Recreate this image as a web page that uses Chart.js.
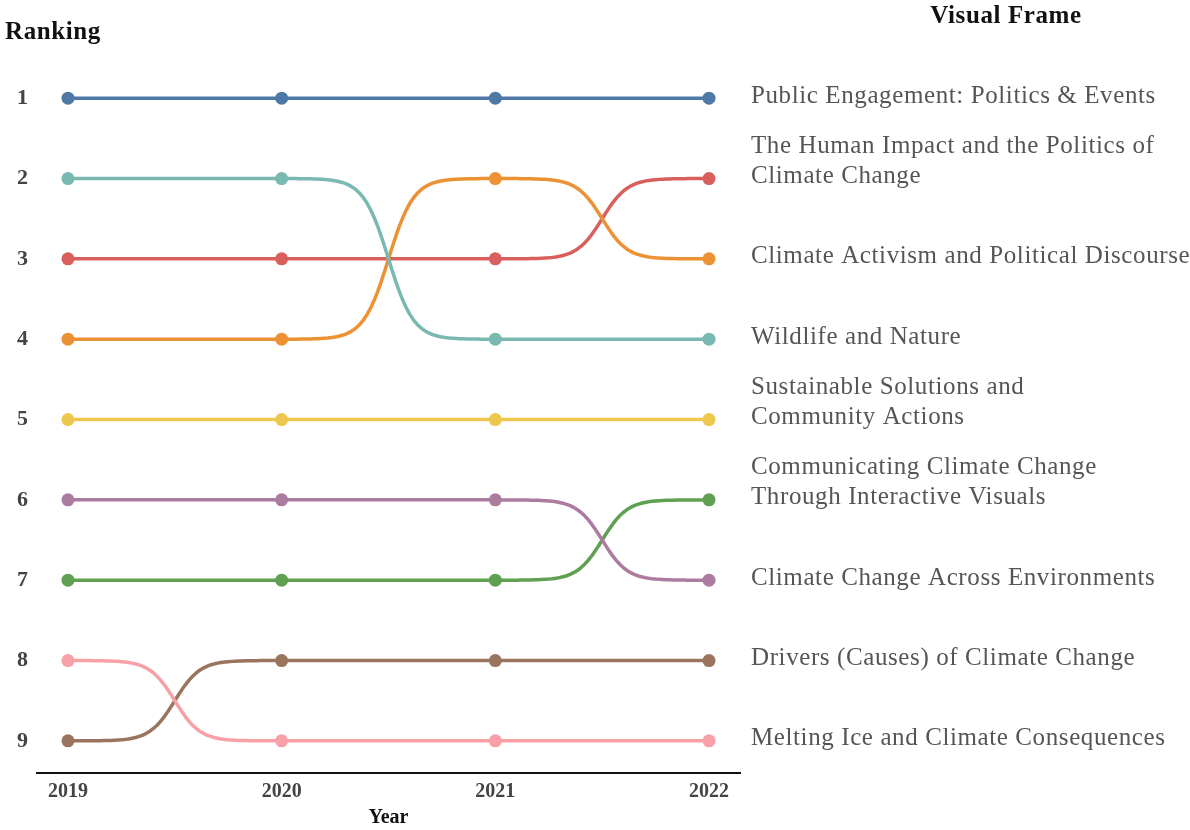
<!DOCTYPE html>
<html>
<head>
<meta charset="utf-8">
<script src="https://cdn.jsdelivr.net/npm/chart.js@4.4.1/dist/chart.umd.min.js"></script>
<style>
  html, body { margin: 0; padding: 0; background: #fff; }
  #wrap { width: 1190px; height: 830px; }
</style>
</head>
<body>
<div id="wrap"><canvas id="chartBump"></canvas></div>
<script>
// datos del ranking por año
const anios = [2019, 2020, 2021, 2022];
const rangos = [1, 2, 3, 4, 5, 6, 7, 8, 9];

const marcos = [
    ['Public Engagement: Politics & Events'],
    ['The Human Impact and the Politics of', 'Climate Change'],
    ['Climate Activism and Political Discourse'],
    ['Wildlife and Nature'],
    ['Sustainable Solutions and', 'Community Actions'],
    ['Communicating Climate Change', 'Through Interactive Visuals'],
    ['Climate Change Across Environments'],
    ['Drivers (Causes) of Climate Change'],
    ['Melting Ice and Climate Consequences']
];

const rankPublic      = [1, 1, 1, 1];
const rankHuman       = [3, 3, 3, 2];
const rankActivism    = [4, 4, 2, 3];
const rankWildlife    = [2, 2, 4, 4];
const rankSustainable = [5, 5, 5, 5];
const rankCommunic    = [7, 7, 7, 6];
const rankAcross      = [6, 6, 6, 7];
const rankDrivers     = [9, 8, 8, 8];
const rankMelting     = [8, 9, 9, 9];

const series = [rankPublic, rankHuman, rankActivism, rankWildlife, rankSustainable,
                rankCommunic, rankAcross, rankDrivers, rankMelting];

const colores = ['#4e79a7', '#d95f5d', '#ec9234', '#7ab8b2', '#ecc94e',
                 '#5fa052', '#ab7ba0', '#9a745e', '#f7a0a8'];

const FUENTE = "'Liberation Serif', 'DejaVu Serif', serif";

// curvas en S entre puntos consecutivos (usa posiciones calculadas por las escalas)
const pluginCurvas = {
    id: 'curvasS',
    beforeDatasetsDraw(chart) {
        const ctx = chart.ctx;
        const k = 17;
        const s0 = 1 / (1 + Math.exp(k / 2));
        const s1 = 1 / (1 + Math.exp(-k / 2));
        chart.data.datasets.forEach((ds, i) => {
            const pts = chart.getDatasetMeta(i).data;
            ctx.save();
            ctx.strokeStyle = ds.borderColor;
            ctx.lineWidth = 3.5;
            ctx.lineCap = 'round';
            ctx.lineJoin = 'round';
            ctx.beginPath();
            ctx.moveTo(pts[0].x, pts[0].y);
            for (let j = 1; j < pts.length; j++) {
                const a = pts[j - 1], b = pts[j];
                if (a.y === b.y) { ctx.lineTo(b.x, b.y); continue; }
                const pasos = 60;
                for (let n = 1; n <= pasos; n++) {
                    const t = n / pasos;
                    const s = (1 / (1 + Math.exp(-k * (t - 0.5))) - s0) / (s1 - s0);
                    ctx.lineTo(a.x + (b.x - a.x) * t, a.y + (b.y - a.y) * s);
                }
            }
            ctx.stroke();
            ctx.restore();
        });
    },
    afterDraw(chart) {
        const ctx = chart.ctx;
        ctx.save();
        // etiquetas a la derecha
        ctx.fillStyle = '#555';
        ctx.font = `25px ${FUENTE}`;
        ctx.letterSpacing = '0.6px';
        ctx.textAlign = 'left';
        ctx.textBaseline = 'middle';
        chart.data.datasets.forEach((ds, i) => {
            const pts = chart.getDatasetMeta(i).data;
            const ultimo = pts[pts.length - 1];
            const rango = ds.data[ds.data.length - 1].y;
            const lineas = marcos[rango - 1];
            lineas.forEach((txt, l) => {
                const y = ultimo.y - (lineas.length - 1 - l) * 30 - 2;
                ctx.fillText(txt, chart.chartArea.right + 11, y);
            });
        });
        // títulos
        ctx.fillStyle = '#111';
        ctx.font = `bold 25px ${FUENTE}`;
        ctx.letterSpacing = '0.6px';
        ctx.textAlign = 'left';
        ctx.fillText('Ranking', 5, 33);
        ctx.textAlign = 'center';
        ctx.fillText('Visual Frame', 1006, 17);
        ctx.restore();
    }
};

const datasets = series.map((serie, i) => ({
    label: marcos[i].join(' '),
    data: serie.map((r, j) => ({ x: anios[j], y: r })),
    borderColor: colores[i],
    backgroundColor: colores[i],
    showLine: false,
    pointRadius: 6.5,
    pointHoverRadius: 6.5,
    pointBorderWidth: 0
}));

new Chart(document.getElementById('chartBump'), {
    type: 'line',
    data: { datasets },
    options: {
        responsive: true,
        maintainAspectRatio: false,
        animation: false,
        layout: { padding: { top: 50, right: 450, left: 0, bottom: 0 } },
        plugins: { legend: { display: false }, tooltip: { enabled: false } },
        scales: {
            x: {
                type: 'linear',
                min: 2018.855,
                max: 2022.145,
                afterBuildTicks: s => { s.ticks = anios.map(v => ({ value: v })); },
                afterFit: s => { s.height = 57; },
                grid: { display: false, drawTicks: false },
                border: { display: true, color: '#111', width: 2 },
                ticks: {
                    color: '#444',
                    padding: 7,
                    font: { family: FUENTE, size: 20, weight: 'bold' },
                    callback: v => String(v)
                },
                title: {
                    display: true,
                    text: 'Year',
                    color: '#111',
                    padding: { top: 0, bottom: 0 },
                    font: { family: FUENTE, size: 20, weight: 'bold' }
                }
            },
            y: {
                type: 'linear',
                reverse: true,
                min: 0.4,
                max: 9.4,
                afterBuildTicks: s => { s.ticks = rangos.map(v => ({ value: v })); },
                afterFit: s => { s.width = 37; },
                grid: { display: false, drawTicks: false },
                border: { display: false },
                ticks: {
                    color: '#444',
                    padding: 9,
                    font: { family: FUENTE, size: 22, weight: 'bold' }
                }
            }
        }
    },
    plugins: [pluginCurvas]
});
</script>
</body>
</html>
